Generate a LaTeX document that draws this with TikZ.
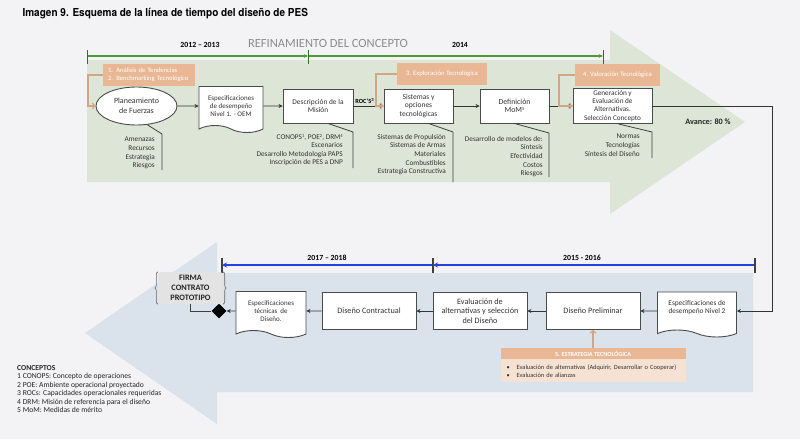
\documentclass[tikz,border=0pt]{standalone}
\usepackage{fontspec}
\setmainfont{Carlito}
\newfontfamily\titlefont[FakeStretch=0.91]{TeX Gyre Heros}
\usepackage{tikz}
\usetikzlibrary{arrows.meta,shapes.geometric,shapes.symbols,decorations.pathreplacing,calc}
\definecolor{bggray}{HTML}{F3F2F5}
\definecolor{arrowgreen}{HTML}{DDE5D7}
\definecolor{arrowblue}{HTML}{DAE2EC}
\definecolor{tlgreen}{HTML}{4E9A36}
\definecolor{tlblue}{HTML}{2440E6}
\definecolor{tanorange}{HTML}{E9B793}
\definecolor{paleorange}{HTML}{F6E2D2}
\definecolor{boxgray}{HTML}{4A4A4A}
\definecolor{txtgray}{HTML}{333333}
\definecolor{firmagray}{HTML}{E3E3E3}
\newcommand{\supnum}[1]{\raisebox{0.55ex}{\fontsize{4.6}{5}\selectfont #1}}

\begin{document}
\begin{tikzpicture}
    [x=1pt,y=-1pt,
     every node/.style={text=txtgray},
     box/.style={draw=boxgray,line width=0.9pt,fill=white,align=center,inner sep=1pt},
     doc/.style={box,shape=tape,tape bend top=none,tape bend bottom=out and in,tape bend height=7pt},
     flow/.style={draw=black!80,line width=0.9pt,-{Stealth[length=4pt,width=4pt]}},
     orangebox/.style={fill=tanorange,text=white,inner sep=1pt},
     orangeflow/.style={draw=tanorange!90!black,line width=1.1pt,-{Straight Barb[length=2.5pt,width=6pt]}},
     callout/.style={draw=black!75,line width=0.8pt},
     notes/.style={anchor=north east,align=right,inner sep=0pt,font=\fontsize{7.3}{8.6}\selectfont},
     years/.style={font=\bfseries\fontsize{7.8}{8}\selectfont,text=black}]
    \fill[bggray] (0,0) rectangle (800,439);
    \useasboundingbox (0,0) rectangle (800,439);
    % big arrows
    \fill[arrowgreen] (87,60) -- (610,60) -- (610,30) -- (745,122) -- (610,214) -- (610,182) -- (87,182) -- cycle;
    \fill[arrowblue] (753,273) -- (217,273) -- (217,242) -- (85,333) -- (217,424) -- (217,392) -- (753,392) -- cycle;
    \node[anchor=west,text=black,font=\titlefont\bfseries\fontsize{11}{13}\selectfont] (title) at (19,14) {Imagen 9. Esquema de la línea de tiempo del diseño de PES};
    % timelines
    \coordinate (g0) at (87,56);
    \coordinate (g1) at (308,56);
    \coordinate (g2) at (603,56);
    \draw[tlgreen,line width=1.2pt,-{Stealth[length=4pt,width=3.5pt]}] (g0) -- (g1);
    \draw[tlgreen,line width=1.2pt,-{Stealth[length=4pt,width=3.5pt]}] (g1) -- (g2);
    \foreach \p in {g0,g1,g2}
        \draw[tlgreen!70!black,line width=1pt] ([yshift=6pt]\p) -- ([yshift=-8pt]\p);
    \node[years] (y1213) at (200,45) {2012 -- 2013};
    \node[font=\fontsize{12.5}{14}\selectfont,text=black!45] (refin) at (328,43) {REFINAMIENTO DEL CONCEPTO};
    \node[years] (y14) at (460,45) {2014};
    \coordinate (b0) at (755,265);
    \coordinate (b1) at (433,265);
    \coordinate (b2) at (222,265);
    \draw[tlblue,line width=1.6pt,-{Stealth[length=5pt,width=5pt]}] (b0) -- (b1);
    \draw[tlblue,line width=1.6pt,-{Stealth[length=5pt,width=5pt]}] (b1) -- (b2);
    \foreach \p in {b0,b1,b2}
        \draw[black!75,line width=1.2pt] ([yshift=7pt]\p) -- ([yshift=-8pt]\p);
    \node[years] (y1516) at (582,258) {2015 - 2016};
    \node[years] (y1718) at (327,258) {2017 -- 2018};
    % top row
    \node[box,shape=ellipse,minimum width=81pt,minimum height=38pt,font=\fontsize{8}{9.7}\selectfont] (plan) at (136.5,106) {Planeamiento\\de Fuerzas};
    \node[doc,minimum width=64pt,minimum height=46pt,font=\fontsize{7}{7.8}\selectfont] (spec1) at (231,106) {Especificaciones\\de desempeño\\Nivel 1. - OEM};
    \node[box,minimum width=70pt,minimum height=34pt,font=\fontsize{7.4}{8.4}\selectfont] (mision) at (318,106) {Descripción de la\\Misión};
    \node[box,minimum width=69pt,minimum height=34pt,font=\fontsize{7.5}{8.3}\selectfont] (sistemas) at (418.5,106) {Sistemas y\\opciones\\tecnológicas};
    \node[box,minimum width=69pt,minimum height=34pt,font=\fontsize{7.8}{8.6}\selectfont] (mom) at (514.5,106) {Definición\\MoM\supnum{5}};
    \node[box,minimum width=79pt,minimum height=35pt,inner sep=0pt,font=\fontsize{7.2}{8.2}\selectfont] (alternativas) at (612.5,106) {Generación y\\Evaluación de\\Alternativas.\\Selección Concepto};
    \draw[flow] (plan) -- (spec1);
    \draw[flow] (spec1) -- (mision);
    \draw[flow] (mision) -- (sistemas);
    \draw[flow] (sistemas) -- (mom);
    \draw[flow] (mom) -- (alternativas);
    \node[font=\bfseries\fontsize{6.3}{7}\selectfont,text=black] (rocs) at (364.5,101) {ROC'S\supnum{3}};
    \node[font=\bfseries\fontsize{8.2}{9}\selectfont,text=black!85] (avance) at (708,122) {Avance: 80 \%};
    % callouts
    \coordinate (c1a) at (162,134);
    \coordinate (c1b) at (162,170);
    \draw[callout] (plan.-60) -- (c1a) -- (c1b);
    \node[notes] (n1) at (155,137) {Amenazas\\Recursos\\Estrategia\\Riesgos};
    \coordinate (c2a) at (353,132);
    \coordinate (c2b) at (353,168);
    \draw[callout] ([xshift=10pt]mision.south) -- (c2a) -- (c2b);
    \node[notes] (n2) at (343,134) {CONOPS\supnum{1}, POE\supnum{2}, DRM\supnum{4}\\Escenarios\\Desarrollo Metodología PAPS\\Inscripción de PES a DNP};
    \coordinate (c3a) at (453,132);
    \coordinate (c3b) at (453,182);
    \draw[callout] ([xshift=10pt]sistemas.south) -- (c3a) -- (c3b);
    \node[notes] (n3) at (446,134) {Sistemas de Propulsión\\Sistemas de Armas\\Materiales\\Combustibles\\Estrategia Constructiva};
    \coordinate (c4a) at (549,133);
    \coordinate (c4b) at (549,177);
    \draw[callout] (mom.south) -- (c4a) -- (c4b);
    \node[notes] (n4) at (543,136) {Desarrollo de modelos de:\\Síntesis\\Efectividad\\Costos\\Riesgos};
    \coordinate (c5a) at (652,132);
    \coordinate (c5b) at (652,158);
    \draw[callout] ([xshift=6pt]alternativas.south) -- (c5a) -- (c5b);
    \node[notes] (n5) at (640,134) {Normas\\Tecnologías\\Síntesis del Diseño};
    % orange boxes
    \node[orangebox,minimum width=92pt,minimum height=22pt,inner xsep=5pt,text width=82pt,align=left,font=\fontsize{6.6}{8}\selectfont] (tend) at (149,75) {1. Análisis de Tendencias\\2. Benchmarking Tecnológico};
    \node[orangebox,minimum width=90pt,minimum height=22pt,font=\fontsize{6.7}{7}\selectfont] (explor) at (442,74) {3. Exploración Tecnológica};
    \node[orangebox,minimum width=85pt,minimum height=22pt,font=\fontsize{6.7}{7}\selectfont] (valor) at (617.5,75) {4. Valoración Tecnológica};
    \coordinate (o1) at (88,90);
    \coordinate (o3) at (376,90);
    \coordinate (o4) at (559,90);
    \draw[orangeflow] (tend.west) -| (o1) |- (plan.west);
    \draw[orangeflow] (explor.west) -| (o3) |- (sistemas.west);
    \draw[orangeflow] (valor.west) -| (o4) |- (alternativas.west);
    % bottom row
    \node[doc,minimum width=79pt,minimum height=45pt,font=\fontsize{7.3}{8.2}\selectfont] (spec2) at (697,311) {Especificaciones de\\desempeño Nivel 2\\~};
    \node[box,minimum width=94pt,minimum height=37pt,font=\fontsize{8.2}{9.7}\selectfont] (prelim) at (593,311) {Diseño Preliminar};
    \node[box,minimum width=94pt,minimum height=37pt,font=\fontsize{8.2}{9.7}\selectfont] (evalsel) at (480,311) {Evaluación de\\alternativas y selección\\del Diseño};
    \node[box,minimum width=94pt,minimum height=37pt,font=\fontsize{8.2}{9.7}\selectfont] (contract) at (369,311) {Diseño Contractual};
    \node[doc,minimum width=70pt,minimum height=46pt,font=\fontsize{7}{8}\selectfont] (spectec) at (271,311) {Especificaciones\\técnicas~~de\\Diseño.};
    \node[diamond,fill=black,minimum size=15pt,inner sep=0pt] (firmado) at (219,311) {};
    \node[fill=firmagray,rounded corners=3pt,minimum width=65pt,minimum height=32pt,inner sep=1pt,align=center,font=\bfseries\fontsize{8.3}{10}\selectfont,text=black!85] (firma) at (190.5,288) {FIRMA\\CONTRATO\\PROTOTIPO};
    \draw[black!60,line width=0.6pt,decorate,decoration={brace,amplitude=3pt}] (firma.south west) -- (firma.north west);
    \draw[black!60,line width=0.6pt,decorate,decoration={brace,amplitude=3pt}] (firma.north east) -- (firma.south east);
    \coordinate (bend) at (772,200);
    \draw[flow] (alternativas.east) -| (bend) |- (spec2.east);
    \draw[flow] (spec2) -- (prelim);
    \draw[flow] (prelim) -- (evalsel);
    \draw[flow] (evalsel) -- (contract);
    \draw[flow] (contract) -- (spectec);
    \draw[flow] (spectec) -- (firmado);
    \draw[callout] (firma.south) |- (firmado.west);
    % estrategia
    \node[orangebox,minimum width=185pt,minimum height=11pt,font=\bfseries\fontsize{6.2}{7}\selectfont] (estrat) at (593,353.5) {5. ESTRATEGIA TECNOLÓGICA};
    \node[fill=paleorange,anchor=north,minimum width=185pt,minimum height=23pt,text width=173pt,inner xsep=6pt,align=left,font=\fontsize{6.4}{8}\selectfont,text=black!80] (estratb) at (estrat.south) {\textbullet\hspace{7pt}Evaluación de alternativas (Adquirir, Desarrollar o Cooperar)\\\textbullet\hspace{7pt}Evaluación de alianzas};
    \draw[orangeflow] (estrat) -- (prelim);
    % legend
    \node[anchor=north west,align=left,inner sep=0pt,font=\fontsize{7.6}{8.5}\selectfont,text=black!85] (conceptos) at (17,365) {\textbf{CONCEPTOS}\\1 CONOPS: Concepto de operaciones\\2 POE: Ambiente operacional proyectado\\3 ROCs: Capacidades operacionales requeridas\\4 DRM: Misión de referencia para el diseño\\5 MoM: Medidas de mérito};
\end{tikzpicture}
\end{document}
